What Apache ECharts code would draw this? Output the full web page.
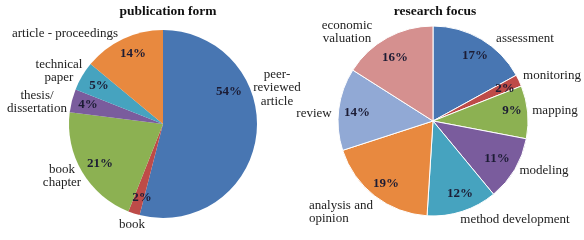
<!DOCTYPE html>
<html>
<head>
<meta charset="utf-8">
<script src="https://cdn.jsdelivr.net/npm/echarts@6/dist/echarts.min.js"></script>
<style>
html,body{margin:0;padding:0;background:#fff;}
#c{width:584px;height:240px;}
</style>
</head>
<body>
<div id="c"></div>
<script>
// ---- data ----
const pubTitle = 'publication form';
const pubCategories = ['peer-\nreviewed\narticle', 'book', 'book\nchapter', 'thesis/\ndissertation', 'technical\npaper', 'article - proceedings'];
const pubValues = [54, 2, 21, 4, 5, 14];

const focusTitle = 'research focus';
const focusCategories = ['assessment', 'monitoring', 'mapping', 'modeling', 'method development', 'analysis and\nopinion', 'review', 'economic\nvaluation'];
const focusValues = [17, 2, 9, 11, 12, 19, 14, 16];

// ---- styles / layout ----
const pubColors = ['#4876B2', '#BE4B48', '#8CB152', '#7A5C9D', '#46A3BF', '#E8893F'];
const focusColors = ['#4876B2', '#BE4B48', '#8CB152', '#7A5C9D', '#46A3BF', '#E8893F', '#91A9D5', '#D5908F'];

const pubCenter = [163, 124], pubR = 94;
const focusCenter = [433, 121], focusR = 95;

// label offsets from pie centre (px)
const pubPctPos = [[66, -32], [-21, 74], [-63, 40], [-75, -19], [-64, -38], [-30, -70]];
const pubNamePos = [[114, -36], [-31, 101], [-101, 52], [-126, -22], [-104, -53], [-98, -90]];
const focusPctPos = [[42, -65], [72, -32], [79, -10], [64, 38], [27, 73], [-47, 63], [-76, -8], [-38, -63]];
const focusNamePos = [[92, -82], [119, -45], [122, -10], [111, 50], [82, 99], [-124, 91], [-119, -7], [-86, -89]];
const focusNameAlign = ['center','center','center','center','center','left','center','center'];

const serif = '"Liberation Serif", "DejaVu Serif", serif';

function makeSeries(center, r, cats, vals, colors, pctPos, namePos, nameAlign, border) {
  const data = cats.map((c, i) => ({ name: c, value: vals[i], itemStyle: { color: colors[i] } }));
  const dataT = cats.map((c, i) => ({ name: c, value: vals[i], itemStyle: { color: 'rgba(0,0,0,0)' } }));
  return [
    {
      type: 'pie', center: center, radius: r, startAngle: 90, clockwise: true,
      animation: false, silent: true,
      data: data,
      itemStyle: border ? { borderColor: '#fff', borderWidth: 1 } : { borderWidth: 0 },
      label: { show: true, position: 'inside', formatter: '{c}%', fontFamily: serif, fontWeight: 'bold', fontSize: 13, color: '#1c1c34', overflow: 'none' },
      labelLine: { show: false },
      labelLayout: function (p) {
        const o = pctPos[p.dataIndex];
        return { x: center[0] + o[0], y: center[1] + o[1], align: 'center', verticalAlign: 'middle' };
      }
    },
    {
      type: 'pie', center: center, radius: r, startAngle: 90, clockwise: true,
      animation: false, silent: true,
      data: dataT,
      itemStyle: { borderWidth: 0 },
      label: { show: true, position: 'outside', formatter: '{b}', fontFamily: serif, fontSize: 13, lineHeight: 13.5, color: '#222', overflow: 'none', width: 200, edgeDistance: 0, bleedMargin: 0 },
      labelLine: { show: false },
      labelLayout: function (p) {
        const o = namePos[p.dataIndex];
        const al = nameAlign ? nameAlign[p.dataIndex] : 'center';
        return { x: center[0] + o[0], y: center[1] + o[1], align: al, verticalAlign: 'middle' };
      }
    }
  ];
}

const chart = echarts.init(document.getElementById('c'), null, { renderer: 'canvas' });
chart.setOption({
  backgroundColor: '#fff',
  animation: false,
  title: [
    { text: pubTitle, left: 168, top: 5, textAlign: 'center', padding: 0,
      textStyle: { fontFamily: serif, fontWeight: 'bold', fontSize: 13.5, color: '#111' } },
    { text: focusTitle, left: 435, top: 5, textAlign: 'center', padding: 0,
      textStyle: { fontFamily: serif, fontWeight: 'bold', fontSize: 13.5, color: '#111' } }
  ],
  series: [].concat(
    makeSeries(pubCenter, pubR, pubCategories, pubValues, pubColors, pubPctPos, pubNamePos, null, false),
    makeSeries(focusCenter, focusR, focusCategories, focusValues, focusColors, focusPctPos, focusNamePos, focusNameAlign, true)
  )
});
</script>
</body>
</html>
